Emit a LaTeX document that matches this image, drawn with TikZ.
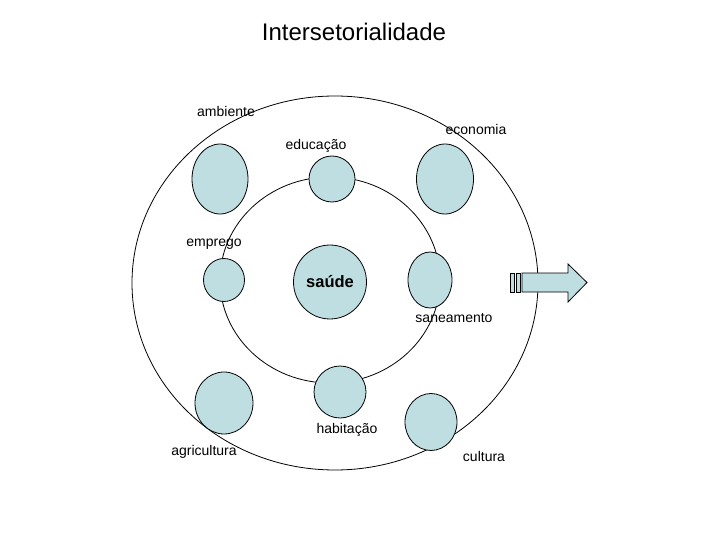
\documentclass[tikz,border=0pt]{standalone}
\usepackage{fontspec}
\setmainfont{Liberation Sans}
\usepackage{xcolor}
\usetikzlibrary{shapes.geometric}
\definecolor{setorblue}{HTML}{BEDEE2}
\tikzset{
  ring/.style={draw=black,line width=.8pt},
  setor/.style={ellipse,draw=black,line width=.8pt,fill=setorblue,inner sep=0pt},
  lbl/.style={font=\fontsize{14}{16}\selectfont,inner sep=0pt},
  stripe/.style={draw=black,line width=.8pt,fill=setorblue}
}
\begin{document}
\begin{tikzpicture}[x=1pt,y=-1pt]
  \useasboundingbox (0,0) rectangle (720,540);
  % rings
  \draw[ring] (335,283) ellipse [x radius=203,y radius=187];
  \draw[ring] (330,280) ellipse [x radius=110,y radius=103];
  % setores
  \node[setor,minimum width=56pt,minimum height=70pt] (amb) at (220,179) {};
  \node[setor,minimum width=46pt,minimum height=46pt] (edu) at (332,179) {};
  \node[setor,minimum width=57pt,minimum height=70pt] (eco) at (445,179) {};
  \node[setor,minimum width=41pt,minimum height=43pt] (emp) at (224,280) {};
  \node[setor,minimum width=73pt,minimum height=74pt,font=\fontsize{16.5}{18}\selectfont\bfseries] (sau) at (330,282) {saúde};
  \node[setor,minimum width=44pt,minimum height=56pt] (san) at (430,280) {};
  \node[setor,minimum width=58pt,minimum height=62pt] (agr) at (224,403) {};
  \node[setor,minimum width=52pt,minimum height=52pt] (hab) at (340,392) {};
  \node[setor,minimum width=52pt,minimum height=57pt] (cul) at (431,422) {};
  % rotulos
  \node[font=\fontsize{24}{28}\selectfont] (titulo) at (354,32) {Intersetorialidade};
  \node[lbl] (lamb) at (226,111) {ambiente};
  \node[lbl] (leco) at (476,129) {economia};
  \node[lbl] (ledu) at (316,146) {educação};
  \node[lbl] (lemp) at (214,244) {emprego};
  \node[lbl] (lsan) at (454,318) {saneamento};
  \node[lbl] (lhab) at (347,430) {habitação};
  \node[lbl] (lagr) at (204,452) {agricultura};
  \node[lbl] (lcul) at (484,456) {cultura};
  % seta
  \draw[stripe] (510,273) rectangle (514,292);
  \draw[stripe] (516,273) rectangle (520,292);
  \draw[stripe] (522,273) -- (568,273) -- (568,264) -- (587,282.5)
    -- (568,302) -- (568,292) -- (522,292) -- cycle;
\end{tikzpicture}
\end{document}
